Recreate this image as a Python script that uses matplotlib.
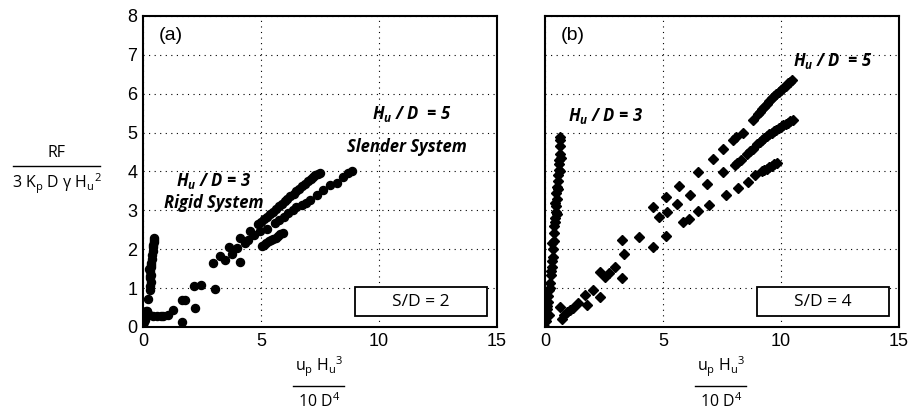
import numpy as np
import matplotlib.pyplot as plt
from matplotlib.patches import Rectangle
from matplotlib.lines import Line2D

plt.rcParams['font.family'] = ['Liberation Sans', 'DejaVu Sans']
plt.rcParams['mathtext.fontset'] = 'custom'
plt.rcParams['mathtext.rm'] = 'Open Sans'
plt.rcParams['mathtext.it'] = 'Open Sans:italic:bold'

# ---- panel (a): S/D = 2, circles
a_rigid_x = [0.0, 0.02, 0.04, 0.06, 0.08, 0.1, 0.12, 0.15, 0.18, 0.2, 0.22, 0.25,
             0.28, 0.3, 0.32, 0.3, 0.34, 0.31, 0.36, 0.33, 0.38, 0.35, 0.4, 0.42,
             0.41, 0.44, 0.45, 0.47, 0.48, 0.3, 0.27, 0.05, 0.1]
a_rigid_y = [0.0, 0.05, 0.12, 0.2, 0.28, 0.35, 0.4, 0.42, 0.38, 0.33, 0.72, 0.3,
             0.95, 1.05, 1.15, 1.25, 1.35, 1.45, 1.55, 1.65, 1.75, 1.6, 1.85, 1.95,
             2.05, 2.1, 2.18, 2.25, 2.3, 1.3, 1.5, 0.32, 0.18]
a_mid_x = [0.44, 0.6, 0.75, 0.86, 1.07, 1.28, 1.64, 1.78, 1.67, 2.2, 2.16, 2.46,
           3.05, 2.98, 3.26, 3.47, 3.66, 3.76, 4.11, 4.11, 4.0, 4.32, 4.53]
a_mid_y = [0.27, 0.28, 0.27, 0.28, 0.31, 0.44, 0.69, 0.69, 0.14, 0.48, 1.05, 1.07,
           0.99, 1.64, 1.83, 1.72, 2.06, 1.89, 1.66, 2.28, 2.02, 2.15, 2.48]
a_slender_x = [4.89, 5.0, 5.12, 5.25, 5.38, 5.5, 5.62, 5.75, 5.88, 6.0, 6.12, 6.25,
               6.38, 6.5, 6.62, 6.75, 6.88, 7.0, 7.1, 7.2, 7.3, 7.4, 7.5]
a_slender_y = [2.66, 2.71, 2.77, 2.83, 2.9, 2.97, 3.03, 3.1, 3.16, 3.23, 3.29, 3.36,
               3.42, 3.49, 3.55, 3.62, 3.68, 3.75, 3.8, 3.85, 3.9, 3.94, 3.97]
a_slender2_x = [4.46, 4.7, 4.95, 5.24, 5.59, 5.75, 5.96, 6.15, 6.35, 6.5, 6.72,
                6.9, 7.07, 7.36, 7.64, 7.92, 8.21, 8.49, 8.7, 8.84]
a_slender2_y = [2.25, 2.37, 2.48, 2.52, 2.68, 2.75, 2.84, 2.93, 3.02, 3.08, 3.14,
                3.2, 3.27, 3.39, 3.52, 3.65, 3.71, 3.86, 3.96, 4.02]
a_short_x = [5.03, 5.12, 5.22, 5.32, 5.42, 5.52, 5.62, 5.72, 5.82, 5.92]
a_short_y = [2.08, 2.12, 2.16, 2.2, 2.24, 2.27, 2.3, 2.34, 2.38, 2.41]

# ---- panel (b): S/D = 4, diamonds
b_rigid_x = [0.0, 0.03, 0.06, 0.1, 0.14, 0.12, 0.18, 0.21, 0.25, 0.3, 0.35, 0.33,
             0.38, 0.4, 0.43, 0.45, 0.48, 0.5, 0.47, 0.52, 0.54, 0.56, 0.58, 0.6,
             0.61, 0.62, 0.63, 0.64, 0.28, 0.2, 0.36, 0.42, 0.08, 0.15, 0.24,
             0.3, 0.44, 0.55, 0.62, 0.68, 0.5, 0.65]
b_rigid_y = [0.0, 0.15, 0.3, 0.45, 0.65, 0.8, 0.95, 1.12, 1.35, 1.55, 1.81, 2.0,
             2.41, 2.6, 2.8, 2.95, 3.1, 3.3, 3.45, 3.61, 3.75, 3.9, 4.05, 4.2,
             4.29, 4.45, 4.65, 4.9, 1.7, 1.0, 2.2, 2.7, 0.55, 0.3, 1.45, 2.15,
             3.2, 3.55, 4.0, 4.35, 2.9, 4.8]
b_mid_x = [0.64, 0.71, 0.8, 0.92, 1.06, 1.2, 1.41, 1.69, 1.77, 2.05, 2.33, 2.33,
           2.54, 2.71, 2.97, 3.25, 3.25, 3.36, 3.98, 4.59, 4.59, 4.84, 5.13, 5.13,
           5.16, 5.58, 5.69, 6.47]
b_mid_y = [0.52, 0.2, 0.3, 0.39, 0.43, 0.5, 0.61, 0.82, 0.57, 0.95, 0.78, 1.42,
           1.29, 1.38, 1.55, 1.25, 2.24, 1.88, 2.31, 2.05, 3.09, 2.82, 2.34, 3.35,
           2.96, 3.16, 3.63, 3.99]
b_low_x = [5.83, 6.11, 6.47, 6.96, 7.66, 8.19, 8.61, 8.9, 9.18, 9.3, 9.4, 9.5,
           9.6, 9.7, 9.82]
b_low_y = [2.71, 2.79, 2.99, 3.14, 3.39, 3.57, 3.74, 3.91, 4.0, 4.04, 4.07, 4.11,
           4.15, 4.18, 4.21]
b_middle_x = [6.14, 6.88, 7.56, 8.05, 8.15, 8.3, 8.54, 8.7, 8.83, 9.0, 9.1, 9.2,
              9.3, 9.4, 9.5, 9.6, 9.7, 9.8, 9.9, 10.0, 10.1, 10.2, 10.3, 10.4,
              10.52]
b_middle_y = [3.39, 3.69, 3.99, 4.16, 4.22, 4.3, 4.46, 4.52, 4.58, 4.7, 4.75, 4.8,
              4.86, 4.92, 4.96, 5.0, 5.04, 5.08, 5.12, 5.15, 5.19, 5.22, 5.26, 5.29,
              5.32]
b_top_x = [7.1, 7.56, 7.98, 8.1, 8.4, 8.83, 9.04, 9.12, 9.2, 9.3, 9.4, 9.5, 9.6,
           9.7, 9.8, 9.9, 10.0, 10.1, 10.2, 10.3, 10.38, 10.45]
b_top_y = [4.32, 4.59, 4.81, 4.88, 5.0, 5.32, 5.49, 5.54, 5.6, 5.67, 5.74, 5.81,
           5.88, 5.94, 6.0, 6.05, 6.1, 6.16, 6.21, 6.28, 6.31, 6.35]

panel_a = [(a_rigid_x, a_rigid_y), (a_mid_x, a_mid_y), (a_slender_x, a_slender_y),
           (a_slender2_x, a_slender2_y), (a_short_x, a_short_y)]
panel_b = [(b_rigid_x, b_rigid_y), (b_mid_x, b_mid_y), (b_low_x, b_low_y),
           (b_middle_x, b_middle_y), (b_top_x, b_top_y)]

fig = plt.figure(figsize=(9.09, 4.11), dpi=100)
ax1 = fig.add_axes([0.1573, 0.2044, 0.3894, 0.7567])
ax2 = fig.add_axes([0.5996, 0.2044, 0.3894, 0.7567])

for x, y in panel_a:
    ax1.plot(x, y, 'o', color='k', ms=5.8, mec='k')
for x, y in panel_b:
    ax2.plot(x, y, 'D', color='k', ms=5.2, mec='k')

for ax, tag, sd in [(ax1, '(a)', 'S/D = 2'), (ax2, '(b)', 'S/D = 4')]:
    ax.set_xlim(0, 15)
    ax.set_ylim(0, 8)
    ax.set_xticks([0, 5, 10, 15])
    ax.set_yticks(range(9))
    ax.grid(True, linestyle=(0, (1, 4)), color='k', linewidth=0.8)
    ax.tick_params(direction='in', length=0, labelsize=13, pad=4)
    for s in ax.spines.values():
        s.set_linewidth(1.5)
    ax.text(0.045, 0.965, tag, transform=ax.transAxes, fontsize=14,
            ha='left', va='top')
    ax.add_patch(Rectangle((9.0, 0.27), 5.58, 0.77, fill=True, fc='white',
                           ec='k', lw=1.3, zorder=3))
    ax.text(11.79, 0.655, sd, ha='center', va='center', fontsize=12.5,
            family=['Open Sans', 'DejaVu Sans'], zorder=4)
ax2.tick_params(labelleft=False)

ann = dict(fontsize=12, fontweight='bold', fontstyle='italic',
           family=['Open Sans', 'DejaVu Sans'], ha='center', va='center')
ax1.text(3.0, 3.75, r'H$_\mathit{u}$ / D = 3', **ann)
ax1.text(3.0, 3.2, 'Rigid System', **ann)
ax1.text(11.4, 5.47, r'H$_\mathit{u}$ / D  = 5', **ann)
ax1.text(11.2, 4.62, 'Slender System', **ann)
ax2.text(2.55, 5.42, r'H$_\mathit{u}$ / D = 3', **ann)
ax2.text(12.2, 6.83, r'H$_\mathit{u}$ / D  = 5', **ann)

lab = dict(family=['Open Sans', 'DejaVu Sans'], fontsize=11.5,
           ha='center', va='center')
# y label fraction
fig.text(57 / 909, 1 - 153 / 411, 'RF', **lab)
fig.add_artist(Line2D([13 / 909, 100 / 909], [1 - 166 / 411] * 2,
                      color='k', lw=1.0))
fig.text(57 / 909, 1 - 184 / 411,
         r'3 K$_\mathregular{p}$ D γ H$_\mathregular{u}$$^\mathregular{2}$', **lab)

# x label fractions
for cx in (319, 721):
    fig.text(cx / 909, 1 - 367 / 411,
             r'u$_\mathregular{p}$ H$_\mathregular{u}$$^\mathregular{3}$', **lab)
    fig.add_artist(Line2D([(cx - 26) / 909, (cx + 25) / 909], [1 - 386 / 411] * 2,
                          color='k', lw=1.0))
    fig.text(cx / 909, 1 - 402 / 411, r'10 D$^\mathregular{4}$', **lab)

fig.savefig('out.png', dpi=100)
